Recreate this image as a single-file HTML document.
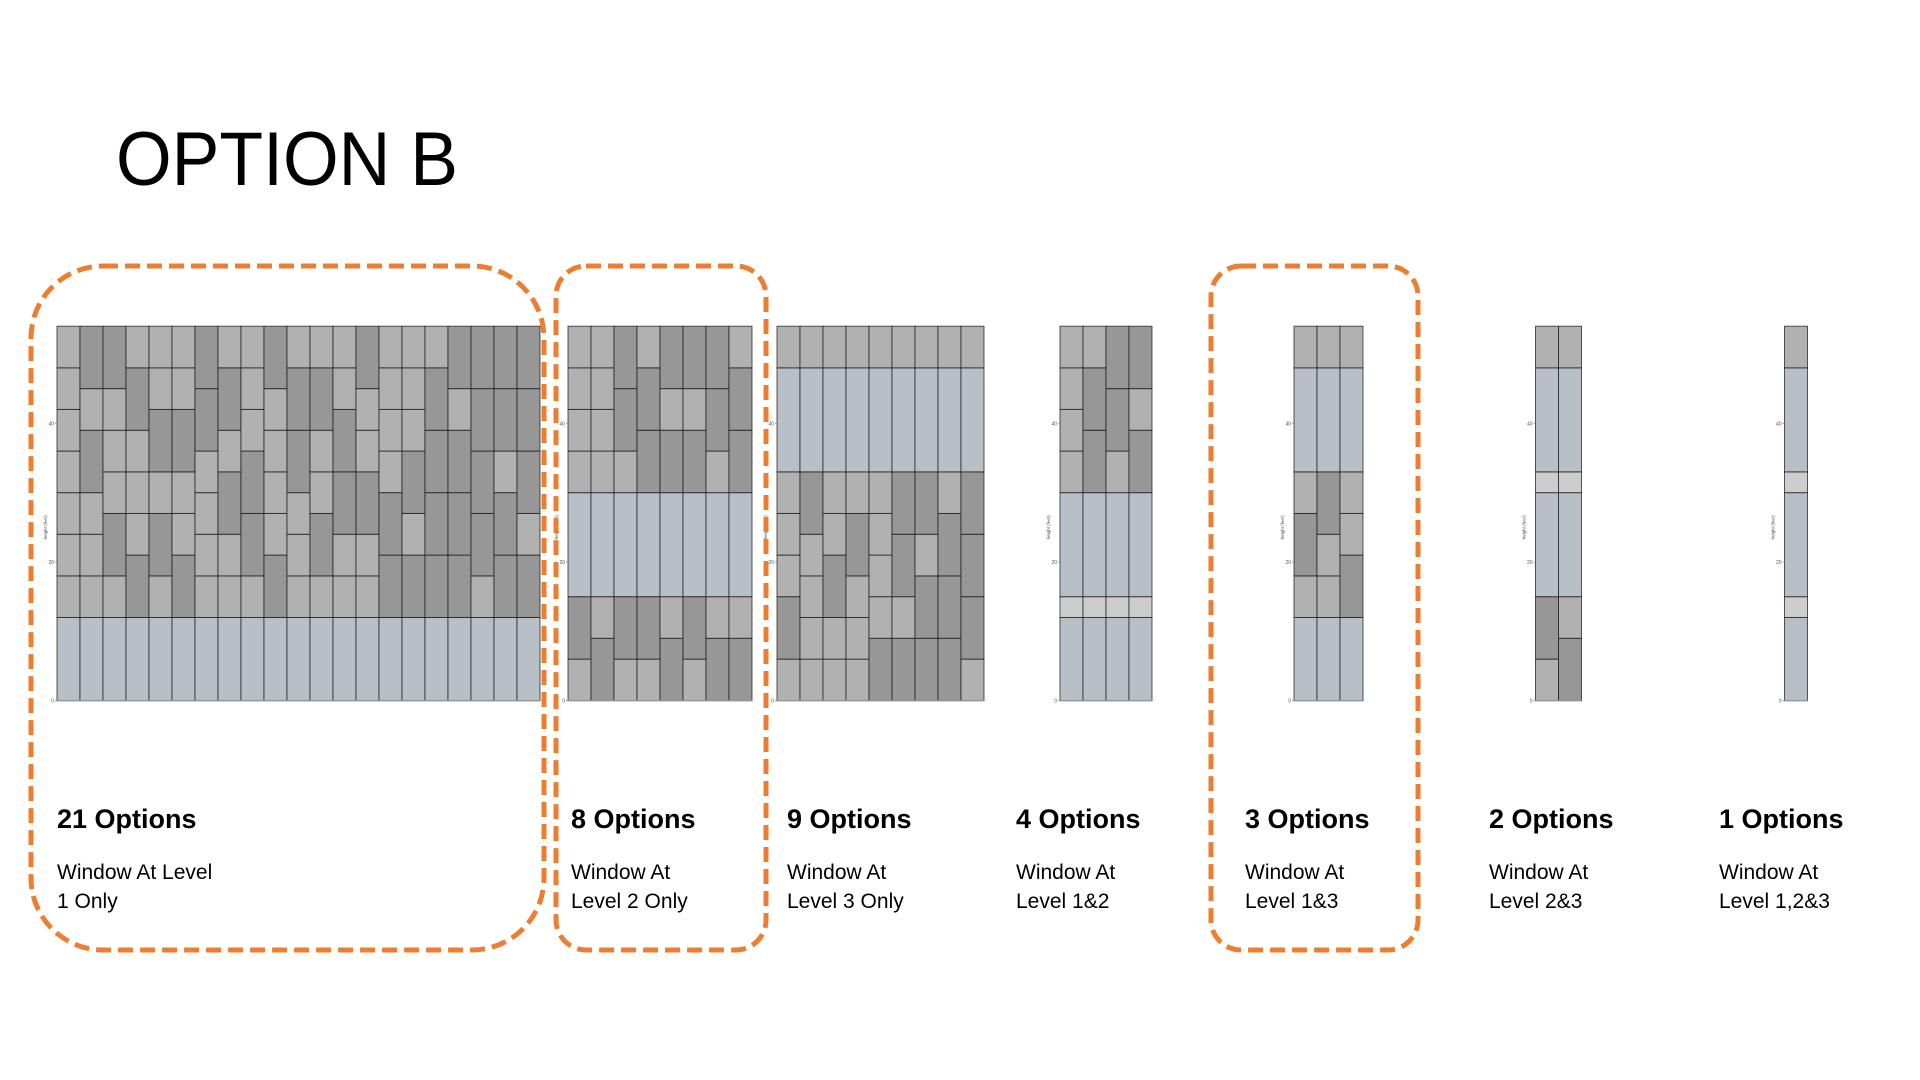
<!DOCTYPE html>
<html><head><meta charset="utf-8"><style>
html,body{margin:0;padding:0;background:#fff;}
svg{display:block;}
text{font-family:"Liberation Sans",sans-serif;}
</style></head>
<body>
<svg id="s" width="1920" height="1080" viewBox="0 0 1920 1080">
<text x="116" y="185" font-size="76" textLength="342" lengthAdjust="spacingAndGlyphs" fill="#000">OPTION B</text>
<g id="charts"></g>
<g id="labels"></g>
<g id="boxes" fill="none" stroke="#ED7D31" stroke-width="5" stroke-dasharray="15 7">
<rect x="31" y="266" width="513" height="684" rx="72" ry="72"/>
<rect x="556" y="266" width="210" height="684" rx="30" ry="30"/>
<rect x="1211" y="266" width="207" height="684" rx="30" ry="30"/>
</g>
</svg>
<script>
// Column stacks, bottom to top. L = light brick (6 ft), D = dark brick (9 ft), W = window, G = gap band; number = height in feet
const chart1Cols = [
"W12 L L L L L L L","W12 L L L D L D","W12 L D L L L D","W12 D L L L D L","W12 L D L D L L","W12 D L L D L L","W12 L L L L D D",
"W12 L L D L D L","W12 L D D L L L","W12 D L L L L D","W12 L L L D D L","W12 L D L L D L","W12 L L D D L L","W12 L L D L L D",
"W12 D D L L L L","W12 D L D L L L","W12 D D D D L","W12 D D D L D","W12 L D D D D","W12 D D L D D","W12 D L D D D"];
const chart2Cols = ["L D W15 L L L L","D L W15 L L L L","L D W15 L D D","L D W15 D D L","D L W15 D L D","L D W15 D L D","D L W15 L D D","D L W15 D D L"];
const chart3Cols = ["L D L L L W15 L","L L L L D W15 L","L L D L L W15 L","L L L D L W15 L","D L L L L W15 L","D L D D W15 L","D D L D W15 L","D D D L W15 L","L D D D W15 L"];
const chart4Cols = ["W12 G3 W15 L L L L","W12 G3 W15 D D L","W12 G3 W15 L D D","W12 G3 W15 D L D"];
const chart5Cols = ["W12 L D L W15 L","W12 L L D W15 L","W12 D L L W15 L"];
const chart6Cols = ["L D W15 G3 W15 L","D L W15 G3 W15 L"];
const chart7Cols = ["W12 G3 W15 G3 W15 L"];
const yTicks = [0, 20, 40];
const optionCounts = ["21 Options","8 Options","9 Options","4 Options","3 Options","2 Options","1 Options"];
const captionLine1 = ["Window At Level","Window At","Window At","Window At","Window At","Window At","Window At"];
const captionLine2 = ["1 Only","Level 2 Only","Level 3 Only","Level 1&2","Level 1&3","Level 2&3","Level 1,2&3"];

const NS = "http://www.w3.org/2000/svg";
const Y0 = 700.7, UNIT = 6.935, COLW = 23;
const yScale = v => Y0 - v * UNIT;
const chartLefts = [57, 568, 777, 1060, 1294, 1535.5, 1784.5];
const textLefts = [57, 571, 787, 1016, 1245, 1489, 1719];
const fills = {L:"#b1b1b1", D:"#979797", W:"#b8bfc7", G:"#cdcdcd"};
const defH = {L:6, D:9, W:15, G:3};
const allCharts = [chart1Cols, chart2Cols, chart3Cols, chart4Cols, chart5Cols, chart6Cols, chart7Cols];
const gC = document.getElementById("charts");
const gL = document.getElementById("labels");

function mk(tag, attrs, parent){
  const e = document.createElementNS(NS, tag);
  for (const k in attrs) e.setAttribute(k, attrs[k]);
  parent.appendChild(e);
  return e;
}

allCharts.forEach((cols, ci) => {
  const g = mk("g", {}, gC);
  
  
  const left = chartLefts[ci];
  const xScale = i => left + i * COLW;
  cols.forEach((col, i) => {
    let base = 0;
    col.split(" ").forEach(tok => {
      const t = tok[0];
      const h = tok.length > 1 ? parseFloat(tok.slice(1)) : defH[t];
      const r = mk("rect", {x: xScale(i), y: yScale(base + h), width: COLW, height: h * UNIT,
        fill: fills[t], stroke: "rgba(20,20,20,0.7)", "stroke-width": 1}, g);
      
      
      base += h;
    });
  });
  const right = xScale(cols.length);
  const ax = mk("line", {x1: left, x2: right, y1: Y0, y2: Y0, stroke: "#999", "stroke-width": 1.2}, g);
  
  
  yTicks.forEach(v => {
    const tk = mk("line", {x1: left - 2, x2: left, y1: yScale(v), y2: yScale(v), stroke: "#888", "stroke-width": 0.8}, g);
    
    
    const tl = mk("text", {x: left - 3, y: yScale(v) + 2, "font-size": 5, fill: "#555", "text-anchor": "end"}, g);
    tl.textContent = String(v);
    
    
  });
  const yt = mk("text", {x: 0, y: 0, "font-size": 4.5, fill: "#555", "text-anchor": "middle",
    transform: "translate(" + (left - 10) + "," + yScale(25) + ") rotate(-90)"}, g);
  yt.textContent = "height (feet)";
  
  
});

optionCounts.forEach((s, i) => {
  const t = mk("text", {x: textLefts[i], y: 828, "font-size": 27, "font-weight": "bold", fill: "#000"}, gL);
  t.textContent = s;
  
  
  const a = mk("text", {x: textLefts[i], y: 879, "font-size": 21, fill: "#000"}, gL);
  a.textContent = captionLine1[i];
  
  
  const b = mk("text", {x: textLefts[i], y: 908, "font-size": 21, fill: "#000"}, gL);
  b.textContent = captionLine2[i];
  
  
});
</script>
</body></html>
